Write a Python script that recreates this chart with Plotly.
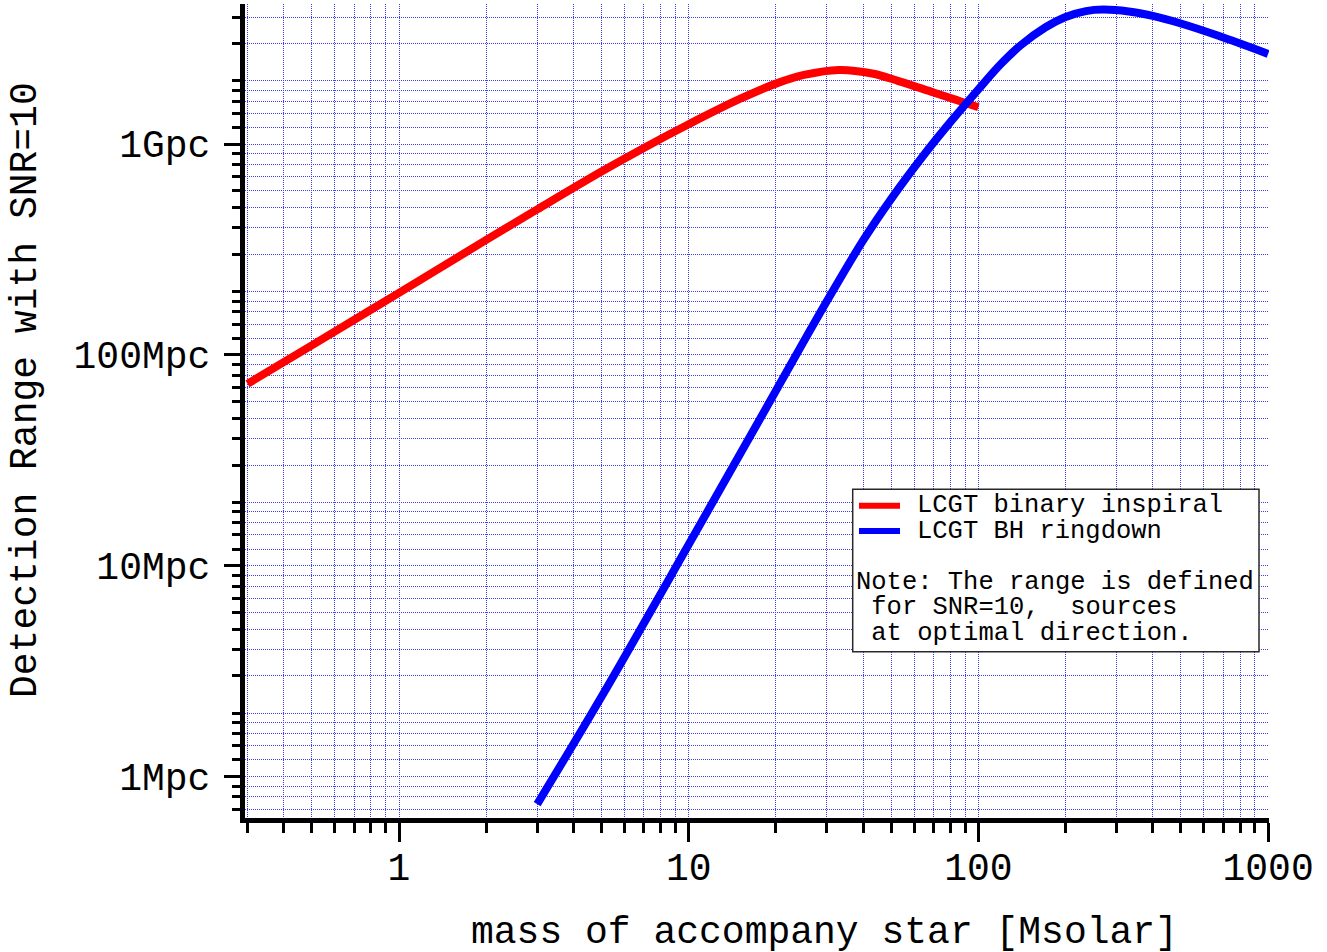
import plotly.graph_objects as go

# ---------------- data ----------------
mass_inspiral = [0.3, 0.5, 1, 2, 3, 5, 7, 10, 15, 20, 25, 33, 43, 53, 70, 85, 100]
range_inspiral = [72.9, 111, 197, 351, 490, 741, 959, 1242, 1637, 1936, 2128, 2249, 2163, 1991, 1758, 1611, 1496]

mass_ringdown = [3, 5, 10, 20, 30, 40, 50, 65, 80, 100, 120, 140, 170, 200, 235, 270, 330, 400, 500, 670, 1000]
range_ringdown = [0.74, 2.39, 12.6, 67.6, 180, 349, 550, 893, 1271, 1820, 2410, 2944, 3573, 4009, 4276, 4345, 4256, 4055, 3733, 3273, 2679]

x_tickvals = [1, 10, 100, 1000]
x_ticktext = ["1", "10", "100", "1000"]
x_minorvals = [0.3, 0.4, 0.5, 0.6, 0.7, 0.8, 0.9,
               2, 3, 4, 5, 6, 7, 8, 9,
               20, 30, 40, 50, 60, 70, 80, 90,
               200, 300, 400, 500, 600, 700, 800, 900]

y_tickvals = [1, 10, 100, 1000]
y_ticktext = ["1Mpc", "10Mpc", "100Mpc", "1Gpc"]
y_minorvals = [0.7, 0.8, 0.9,
               1.2, 1.4, 1.6, 1.8, 2, 3, 4, 5, 6, 7, 8, 9,
               12, 14, 16, 18, 20, 30, 40, 50, 60, 70, 80, 90,
               120, 140, 160, 180, 200, 300, 400, 500, 600, 700, 800, 900,
               1200, 1400, 1600, 1800, 2000, 3000, 4000]

series_names = ["LCGT binary inspiral", "LCGT BH ringdown"]
note_lines = ["Note: The range is defined",
              "\u00a0for SNR=10,\u00a0\u00a0sources",
              "\u00a0at optimal direction."]

# ---------------- layout geometry ----------------
W, H = 1327, 952
ML, MR, MT, MB = 245, 58, 4, 134
PW, PH = W - ML - MR, H - MT - MB
FONT = "Liberation Mono"
GRID = "rgb(60,60,255)"
GRIDDASH = "1px,1px"


def px(xp):
    return (xp - ML) / PW


def py(yp):
    return (H - MB - yp) / PH


fig = go.Figure()
fig.add_trace(go.Scatter(x=mass_inspiral, y=range_inspiral, mode="lines",
                         name=series_names[0], showlegend=False,
                         line=dict(color="rgb(255,0,0)", width=8, shape="spline", smoothing=1)))
fig.add_trace(go.Scatter(x=mass_ringdown, y=range_ringdown, mode="lines",
                         name=series_names[1], showlegend=False,
                         line=dict(color="rgb(0,0,255)", width=8, shape="spline", smoothing=1)))

axis_common = dict(
    type="log", showline=True, linewidth=5, linecolor="black", mirror=False,
    ticks="outside", tickwidth=3, tickcolor="black",
    showgrid=True, gridcolor=GRID, gridwidth=1, griddash=GRIDDASH,
    zeroline=False, automargin=False,
    tickfont=dict(family=FONT, size=38, color="black"),
)

fig.update_layout(
    width=W, height=H, template="none",
    paper_bgcolor="white", plot_bgcolor="white",
    margin=dict(l=ML, r=MR, t=MT, b=MB, autoexpand=False),
    showlegend=False,
    xaxis=dict(**axis_common,
               range=[(ML - 399) / 289.7, (W - MR - 399) / 289.7],
               tickmode="array", tickvals=x_tickvals, ticktext=x_ticktext,
               ticklen=19, ticklabelstandoff=-8,
               minor=dict(tickmode="array", tickvals=x_minorvals, ticks="outside",
                          ticklen=10, tickwidth=3, tickcolor="black",
                          showgrid=True, gridcolor=GRID, gridwidth=1, griddash=GRIDDASH)),
    yaxis=dict(**axis_common,
               range=[(776.5 - (H - MB)) / 210.8, (776.5 - MT) / 210.8],
               tickmode="array", tickvals=y_tickvals, ticktext=y_ticktext,
               ticklen=16, ticklabelstandoff=6,
               minor=dict(tickmode="array", tickvals=y_minorvals, ticks="outside",
                          ticklen=8, tickwidth=3, tickcolor="black",
                          showgrid=True, gridcolor=GRID, gridwidth=1, griddash=GRIDDASH)),
)

annotations = [
    dict(text="mass of accompany star [Msolar]", xref="paper", yref="paper",
         x=px(824), y=py(932), xanchor="center", yanchor="middle", showarrow=False,
         height=38, valign="middle",
         font=dict(family=FONT, size=38, color="black")),
    dict(text="Detection Range with SNR=10", xref="paper", yref="paper",
         x=px(25), y=py(390), xanchor="center", yanchor="middle", showarrow=False,
         textangle=-90, font=dict(family=FONT, size=38, color="black")),
]

# legend box (drawn by hand so that it also holds the note)
shapes = [
    dict(type="rect", xref="paper", yref="paper", layer="above",
         x0=px(852.7), x1=px(1259), y0=py(651.7), y1=py(489.3),
         fillcolor="white", line=dict(color="rgb(40,40,40)", width=1.5)),
    dict(type="line", xref="paper", yref="paper", layer="above",
         x0=px(859), x1=px(900), y0=py(505.7), y1=py(505.7),
         line=dict(color="rgb(255,0,0)", width=6)),
    dict(type="line", xref="paper", yref="paper", layer="above",
         x0=px(859), x1=px(900), y0=py(531), y1=py(531),
         line=dict(color="rgb(0,0,255)", width=6)),
]
for name, yp in zip(series_names, [505.7, 531]):
    annotations.append(dict(text=name, xref="paper", yref="paper",
                            x=px(916), y=py(yp), xanchor="left", yanchor="middle",
                            showarrow=False, borderpad=0,
                            font=dict(family=FONT, size=25.5, color="black")))
for line, yp in zip(note_lines, [582, 607.5, 633]):
    annotations.append(dict(text=line, xref="paper", yref="paper",
                            x=px(855), y=py(yp), xanchor="left", yanchor="middle",
                            showarrow=False, borderpad=0,
                            font=dict(family=FONT, size=25.5, color="black")))

fig.update_layout(annotations=annotations, shapes=shapes)
fig.write_html("out.html")
